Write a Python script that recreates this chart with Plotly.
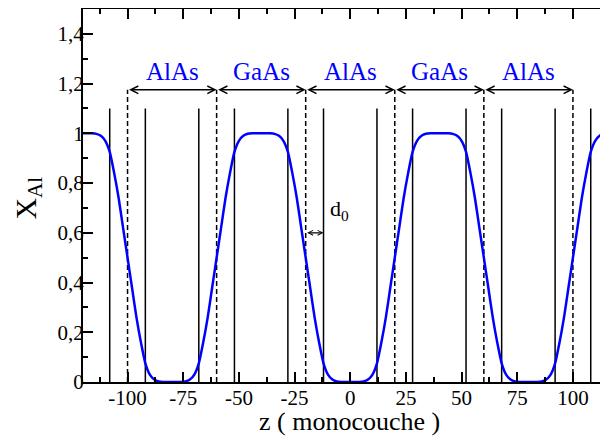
import plotly.graph_objects as go

# ---- data ----
z = [-120, -118, -116, -114, -112, -110, -108, -106, -104, -102,
     -100, -98, -96, -94, -92, -90, -88, -86, -84, -82,
     -80, -78, -76, -74, -72, -70, -68, -66, -64, -62,
     -60, -58, -56, -54, -52, -50, -48, -46, -44, -42,
     -40, -38, -36, -34, -32, -30, -28, -26, -24, -22,
     -20, -18, -16, -14, -12, -10, -8, -6, -4, -2,
     0, 2, 4, 6, 8, 10, 12, 14, 16, 18,
     20, 22, 24, 26, 28, 30, 32, 34, 36, 38,
     40, 42, 44, 46, 48, 50, 52, 54, 56, 58,
     60, 62, 64, 66, 68, 70, 72, 74, 76, 78,
     80, 82, 84, 86, 88, 90, 92, 94, 96, 98,
     100, 102, 104, 106, 108, 110, 112, 114, 116, 118, 120]
x_al = [1.0, 1.0, 1.0, 0.998, 0.99, 0.97, 0.925, 0.84, 0.74, 0.62,
        0.5, 0.38, 0.26, 0.16, 0.075, 0.03, 0.01, 0.002, 0.0, 0.0,
        0.0, 0.0, 0.0, 0.002, 0.01, 0.03, 0.075, 0.16, 0.26, 0.38,
        0.5, 0.62, 0.74, 0.84, 0.925, 0.97, 0.99, 0.998, 1.0, 1.0,
        1.0, 1.0, 1.0, 0.998, 0.99, 0.97, 0.925, 0.84, 0.74, 0.62,
        0.5, 0.38, 0.26, 0.16, 0.075, 0.03, 0.01, 0.002, 0.0, 0.0,
        0.0, 0.0, 0.0, 0.002, 0.01, 0.03, 0.075, 0.16, 0.26, 0.38,
        0.5, 0.62, 0.74, 0.84, 0.925, 0.97, 0.99, 0.998, 1.0, 1.0,
        1.0, 1.0, 1.0, 0.998, 0.99, 0.97, 0.925, 0.84, 0.74, 0.62,
        0.5, 0.38, 0.26, 0.16, 0.075, 0.03, 0.01, 0.002, 0.0, 0.0,
        0.0, 0.0, 0.0, 0.002, 0.01, 0.03, 0.075, 0.16, 0.26, 0.38,
        0.5, 0.62, 0.74, 0.84, 0.925, 0.97, 0.99, 0.998, 1.0, 1.0, 1.0]

interfaces = [-100, -60, -20, 20, 60, 100]          # dashed lines
interface_top = 1.175
planes = [-108, -92, -68, -52, -28, -12, 12, 28, 52, 68, 92, 108]  # solid lines
plane_top = 1.1
layer_labels = ["AlAs", "GaAs", "AlAs", "GaAs", "AlAs"]
label_y = 1.25
d0_start, d0_end, d0_y = -20, -12, 0.6

x_tickvals = [-100, -75, -50, -25, 0, 25, 50, 75, 100]
x_ticktext = ["-100", "-75", "-50", "-25", "0", "25", "50", "75", "100"]
y_tickvals = [0, 0.2, 0.4, 0.6, 0.8, 1.0, 1.2, 1.4]
y_ticktext = ["0", "0,2", "0,4", "0,6", "0,8", "1", "1,2", "1,4"]

FONT = "Liberation Serif"
fig = go.Figure()

# solid vertical lines
sx, sy = [], []
for p in planes:
    sx += [p, p, None]
    sy += [0, plane_top, None]
fig.add_trace(go.Scatter(x=sx, y=sy, mode="lines",
                         line=dict(color="black", width=1.5),
                         hoverinfo="skip", showlegend=False))
# dashed vertical lines
dx, dy = [], []
for p in interfaces:
    dx += [p, p, None]
    dy += [0, interface_top, None]
fig.add_trace(go.Scatter(x=dx, y=dy, mode="lines",
                         line=dict(color="black", width=1.5, dash="5px,3px"),
                         hoverinfo="skip", showlegend=False))
# profile
fig.add_trace(go.Scatter(x=z, y=x_al, mode="lines",
                         line=dict(color="#0000ff", width=2.5, shape="spline", smoothing=0.6),
                         showlegend=False))

anns = []
for i, lab in enumerate(layer_labels):
    a, b = interfaces[i], interfaces[i + 1]
    anns.append(dict(x=b, y=interface_top, ax=a, ay=interface_top,
                     xref="x", yref="y", axref="x", ayref="y",
                     text="", showarrow=True, arrowside="end+start",
                     arrowhead=5, startarrowhead=5, arrowsize=1, startarrowsize=1,
                     arrowwidth=1.5, arrowcolor="black", standoff=0, startstandoff=0))
    anns.append(dict(x=(a + b) / 2, y=label_y, xref="x", yref="y",
                     text=lab, showarrow=False, yanchor="middle",
                     font=dict(family=FONT, size=25, color="#0000ff")))
# d0 arrow
anns.append(dict(x=d0_end, y=d0_y, ax=d0_start, ay=d0_y,
                 xref="x", yref="y", axref="x", ayref="y",
                 text="", showarrow=True, arrowside="end+start",
                 arrowhead=5, startarrowhead=5, arrowsize=0.8, startarrowsize=0.8,
                 arrowwidth=1.2, arrowcolor="black", standoff=0, startstandoff=0))
anns.append(dict(x=-10, y=0.69, xref="x", yref="y", text="d<sub>0</sub>",
                 showarrow=False, xanchor="left", yanchor="middle",
                 font=dict(family=FONT, size=22, color="black")))
# axis titles
anns.append(dict(x=0.508, y=-0.107, xref="paper", yref="paper",
                 text="z ( monocouche )", showarrow=False,
                 xanchor="center", yanchor="middle",
                 font=dict(family=FONT, size=26, color="black")))
anns.append(dict(x=-0.105, y=0.494, xref="paper", yref="paper",
                 text="X<sub>Al</sub>", showarrow=False, textangle=-90,
                 xanchor="center", yanchor="middle",
                 font=dict(family=FONT, size=30, color="black")))

# the page body adds an 8px offset, so the figure is laid out 8px smaller
fig.update_layout(
    width=600, height=430,
    margin=dict(l=75, r=0, t=1, b=56, autoexpand=False),
    paper_bgcolor="white", plot_bgcolor="white",
    annotations=anns,
    font=dict(family=FONT, color="black"),
)
fig.update_xaxes(range=[-120, 115.75], showgrid=False, zeroline=False, automargin=False,
                 showline=True, linecolor="black", linewidth=2, mirror="ticks",
                 ticks="inside", ticklen=10, tickwidth=1.5, tickcolor="black",
                 tickmode="array", tickvals=x_tickvals, ticktext=x_ticktext,
                 ticklabelstandoff=-4,
                 tickfont=dict(family=FONT, size=21, color="black"),
                 minor=dict(tickmode="linear", tick0=0, dtick=12.5, ticks="inside",
                            ticklen=5, tickwidth=1.5, tickcolor="black", showgrid=False))
fig.update_yaxes(range=[0, 1.5], showgrid=False, zeroline=False, automargin=False,
                 showline=True, linecolor="black", linewidth=2, mirror=False,
                 ticks="inside", ticklen=10, tickwidth=1.5, tickcolor="black",
                 tickmode="array", tickvals=y_tickvals, ticktext=y_ticktext,
                 ticklabelstandoff=-7,
                 tickfont=dict(family=FONT, size=21, color="black"),
                 minor=dict(tickmode="linear", tick0=0, dtick=0.1, ticks="inside",
                            ticklen=5, tickwidth=1.5, tickcolor="black", showgrid=False))

fig.write_html("out.html")
